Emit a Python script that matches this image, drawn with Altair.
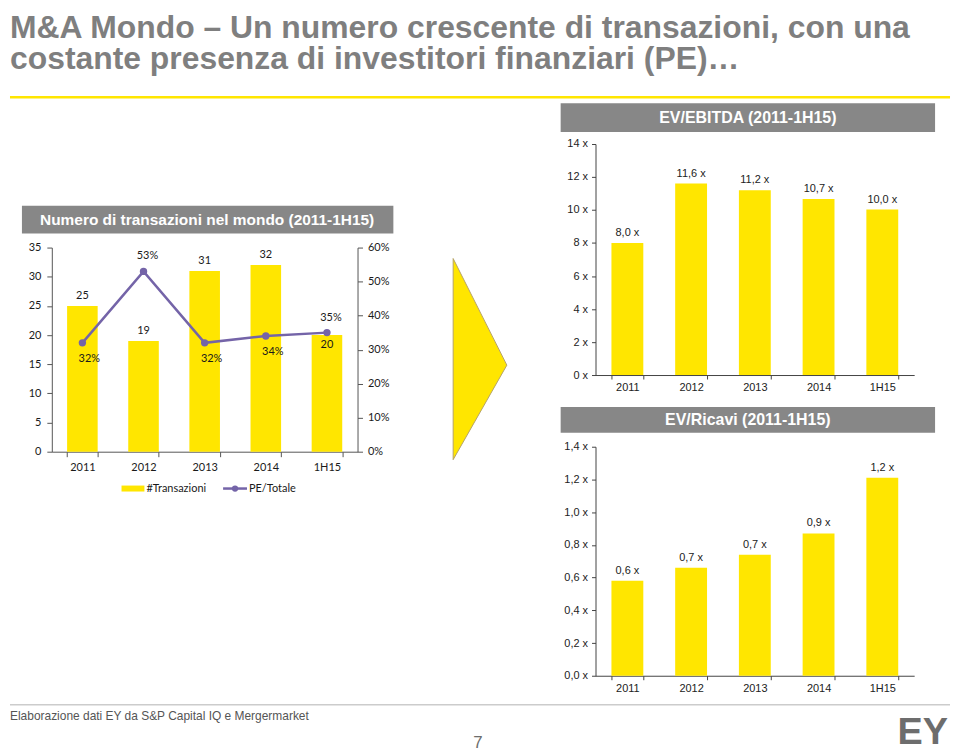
import altair as alt
import pandas as pd

# ---------------- data ----------------
YEARS = ["2011", "2012", "2013", "2014", "1H15"]
TRANSAZIONI = [25, 19, 31, 32, 20]
PE_TOTALE = [0.32, 0.53, 0.32, 0.34, 0.35]
EV_EBITDA = [8.0, 11.6, 11.2, 10.66, 10.03]
EV_RICAVI = [0.58, 0.66, 0.74, 0.87, 1.21]

N_TICKS = [0, 5, 10, 15, 20, 25, 30, 35]
PCT_TICKS = [0, 0.1, 0.2, 0.3, 0.4, 0.5, 0.6]
EBITDA_TICKS = [0, 2, 4, 6, 8, 10, 12, 14]
RICAVI_TICKS = [0, 0.2, 0.4, 0.6, 0.8, 1.0, 1.2, 1.4]

TITLE_LINES = [
    "M&A Mondo – Un numero crescente di transazioni, con una",
    "costante presenza di investitori finanziari (PE)…",
]
LEFT_HEADER = "Numero di transazioni nel mondo  (2011-1H15)"
EBITDA_HEADER = "EV/EBITDA  (2011-1H15)"
RICAVI_HEADER = "EV/Ricavi  (2011-1H15)"
LEGEND_LABELS = ["#Transazioni", "PE/Totale"]
SOURCE = "Elaborazione dati EY da S&P Capital IQ e Mergermarket"
PAGE_NO = "7"
LOGO = "EY"

# ---------------- styles ----------------
YELLOW = "#FFE600"
PURPLE = "#7464a8"
GRAY_BOX = "#878787"
TITLE_GRAY = "#7f7f7f"
NARROW = "Liberation Sans Narrow, Arial Narrow, Liberation Sans, Arial, sans-serif"
CAL = "Lato, Carlito, Calibri, Open Sans, sans-serif"
ARROW_PATH = "M -0.267 -1 L 0.267 0.06 L -0.267 1 Z"

H = 746  # common height of every panel of the slide

one = pd.DataFrame({"k": [0]})


def deco():
    return alt.Chart(one)


def blank(w):
    return (
        deco()
        .mark_point(opacity=0)
        .encode(x=alt.value(100), y=alt.value(300))
        .properties(width=w, height=H)
    )


# ---------------- slide decorations (title, rules, footer) ----------------
title = deco().mark_text(
    align="left", baseline="alphabetic", font=NARROW, fontSize=32, fontWeight="bold",
    color=TITLE_GRAY, lineBreak="\n", lineHeight=31,
).encode(x=alt.value(0), y=alt.value(29), text=alt.value("\n".join(TITLE_LINES)))
yrule = deco().mark_rule(color=YELLOW, strokeWidth=2.5).encode(
    x=alt.value(0), x2=alt.value(944), y=alt.value(88))
f_line = deco().mark_rule(color="#cccccc", strokeWidth=1.5).encode(
    x=alt.value(0), x2=alt.value(944), y=alt.value(698))
f_src = deco().mark_text(align="left", baseline="middle", font=NARROW, fontSize=12, color="#555555").encode(
    x=alt.value(0), y=alt.value(709), text=alt.value(SOURCE))
f_page = deco().mark_text(align="center", baseline="bottom", font=NARROW, fontSize=17, color="#6d6d6d").encode(
    x=alt.value(470), y=alt.value(H), text=alt.value(PAGE_NO))
f_logo = deco().mark_text(
    align="right", baseline="bottom", font=NARROW, fontSize=38, fontWeight="bold", color="#6d6d6d"
).encode(x=alt.value(942), y=alt.value(H), text=alt.value(LOGO))
panel_a = alt.layer(title, yrule, f_line, f_src, f_page, f_logo).properties(width=42, height=H)

# ---------------- left chart ----------------
L_BOTTOM, L_TOP = 444, 239
df_left = pd.DataFrame({"anno": YEARS, "n": TRANSAZIONI, "pe": PE_TOTALE})

ax_common_l = dict(
    labelFont=CAL, labelFontSize=11, labelColor="#1a1a1a",
    domainColor="#555555", tickColor="#555555", tickSize=5, grid=False,
)
xl = alt.X(
    "anno:N", sort=YEARS, title=None,
    scale=alt.Scale(paddingInner=0.5, paddingOuter=0.25),
    axis=alt.Axis(labelAngle=0, tickBand="extent", labelPadding=5, offset=L_BOTTOM - H, **ax_common_l),
)
yl = alt.Y(
    "n:Q", title=None, scale=alt.Scale(domain=[0, 35], nice=False, range=[L_BOTTOM, L_TOP]),
    axis=alt.Axis(values=N_TICKS, labelPadding=6, **ax_common_l),
)
yr = alt.Y(
    "pe:Q", title=None, scale=alt.Scale(domain=[0, 0.6], nice=False, range=[L_BOTTOM, L_TOP]),
    axis=alt.Axis(orient="right", values=PCT_TICKS, format=".0%", labelPadding=5, **ax_common_l),
)

base_l = alt.Chart(df_left)
bars_l = base_l.mark_bar(color=YELLOW).encode(x=xl, y=yl)
lab_l = (
    base_l.transform_filter("datum.anno != '1H15'")
    .mark_text(baseline="bottom", dy=-5, font=CAL, fontSize=11, color="#1a1a1a")
    .encode(x=xl, y=yl, text="n:Q")
)
lab_l_in = (
    base_l.transform_filter("datum.anno == '1H15'")
    .mark_text(baseline="top", dy=4, font=CAL, fontSize=11, color="#1a1a1a")
    .encode(x=xl, y=yl, text="n:Q")
)

hdr_l_box = deco().mark_rect(color=GRAY_BOX).encode(
    x=alt.value(-30), x2=alt.value(343), y=alt.value(197), y2=alt.value(225))
hdr_l_txt = deco().mark_text(
    align="center", baseline="middle", font=NARROW, fontSize=15.5, fontWeight="bold", color="white"
).encode(x=alt.value(156), y=alt.value(211), text=alt.value(LEFT_HEADER))
leg_rect = deco().mark_rect(color=YELLOW).encode(
    x=alt.value(70), x2=alt.value(93), y=alt.value(478), y2=alt.value(484))
leg_t1 = deco().mark_text(align="left", baseline="middle", font=CAL, fontSize=11, color="#1a1a1a").encode(
    x=alt.value(95), y=alt.value(481), text=alt.value(LEGEND_LABELS[0]))
leg_line = deco().mark_rule(color=PURPLE, strokeWidth=2.5).encode(
    x=alt.value(172), x2=alt.value(196), y=alt.value(481))
leg_pt = deco().mark_point(filled=True, color=PURPLE, size=40, opacity=1).encode(
    x=alt.value(184), y=alt.value(481))
leg_t2 = deco().mark_text(align="left", baseline="middle", font=CAL, fontSize=11, color="#1a1a1a").encode(
    x=alt.value(198), y=alt.value(481), text=alt.value(LEGEND_LABELS[1]))
arrow = deco().mark_point(
    shape=ARROW_PATH, filled=True, color=YELLOW, stroke="#b5a36a", strokeWidth=1, opacity=1
).encode(x=alt.value(430), y=alt.value(351), size=alt.value(40804))

bars_group = alt.layer(
    bars_l, lab_l, lab_l_in,
    hdr_l_box, hdr_l_txt, leg_rect, leg_t1, leg_line, leg_pt, leg_t2, arrow,
)

line_l = base_l.mark_line(
    color=PURPLE, strokeWidth=2.5,
    point=alt.OverlayMarkDef(filled=True, size=55, color=PURPLE),
).encode(x=xl, y=yr)
pe_below = (
    base_l.transform_filter(alt.FieldOneOfPredicate(field="anno", oneOf=["2011", "2013", "2014"]))
    .mark_text(dx=7, dy=16, font=CAL, fontSize=11, color="#1a1a1a")
    .encode(x=xl, y=yr, text=alt.Text("pe:Q", format=".0%"))
)
pe_above = (
    base_l.transform_filter(alt.FieldOneOfPredicate(field="anno", oneOf=["2012", "1H15"]))
    .mark_text(dx=4, dy=-15, font=CAL, fontSize=11, color="#1a1a1a")
    .encode(x=xl, y=yr, text=alt.Text("pe:Q", format=".0%"))
)
line_group = alt.layer(line_l, pe_below, pe_above)

left_chart = (
    alt.layer(bars_group, line_group)
    .resolve_scale(y="independent")
    .properties(width=307, height=H)
)


# ---------------- right charts ----------------
def ratio_group(values, ticks, dmax, axis_expr, header, y_bottom, y_top, hy0, hy1):
    df = pd.DataFrame({"anno": YEARS, "v": values})
    ax_common = dict(
        labelFont=NARROW, labelFontSize=11, labelColor="#222222",
        domainColor="#444444", tickColor="#444444", tickSize=4, grid=False,
    )
    x = alt.X(
        "anno:N", sort=YEARS, title=None,
        scale=alt.Scale(paddingInner=0.5, paddingOuter=0.25),
        axis=alt.Axis(orient="bottom", labelAngle=0, tickBand="extent", labelPadding=3,
                      offset=y_bottom - H, **ax_common),
    )
    y = alt.Y(
        "v:Q", title=None, scale=alt.Scale(domain=[0, dmax], nice=False, range=[y_bottom, y_top]),
        axis=alt.Axis(orient="left", values=ticks, labelExpr=axis_expr, labelPadding=4, **ax_common),
    )
    base = alt.Chart(df).transform_calculate(
        lab="replace(format(datum.v, '.1f'), '.', ',') + ' x'"
    )
    bars = base.mark_bar(color=YELLOW).encode(x=x, y=y)
    labs = base.mark_text(
        baseline="bottom", dy=-5, font=NARROW, fontSize=11, color="#222222"
    ).encode(x=x, y=y, text="lab:N")
    box = deco().mark_rect(color=GRAY_BOX).encode(
        x=alt.value(-35), x2=alt.value(341), y=alt.value(hy0), y2=alt.value(hy1))
    txt = deco().mark_text(
        align="center", baseline="middle", font=NARROW, fontSize=16, fontWeight="bold", color="white"
    ).encode(x=alt.value(153), y=alt.value((hy0 + hy1) / 2), text=alt.value(header))
    return alt.layer(bars, labs, box, txt)


ebitda = ratio_group(
    EV_EBITDA, EBITDA_TICKS, 14, "datum.value + ' x'", EBITDA_HEADER, 367, 135, 94, 123)
ricavi = ratio_group(
    EV_RICAVI, RICAVI_TICKS, 1.4, "replace(format(datum.value, '.1f'), '.', ',') + ' x'",
    RICAVI_HEADER, 669, 439, 399, 425)
right_chart = (
    alt.layer(ebitda, ricavi)
    .resolve_scale(x="independent", y="independent")
    .resolve_axis(x="independent", y="independent")
    .properties(width=320, height=H)
)

# ---------------- layout ----------------
chart = (
    alt.hconcat(panel_a, left_chart, blank(239), right_chart, spacing=0, bounds="flush")
    .properties(padding=0)
    .configure_view(strokeOpacity=0)
)

chart.save("out.html", embed_options={"renderer": "svg", "actions": False})
